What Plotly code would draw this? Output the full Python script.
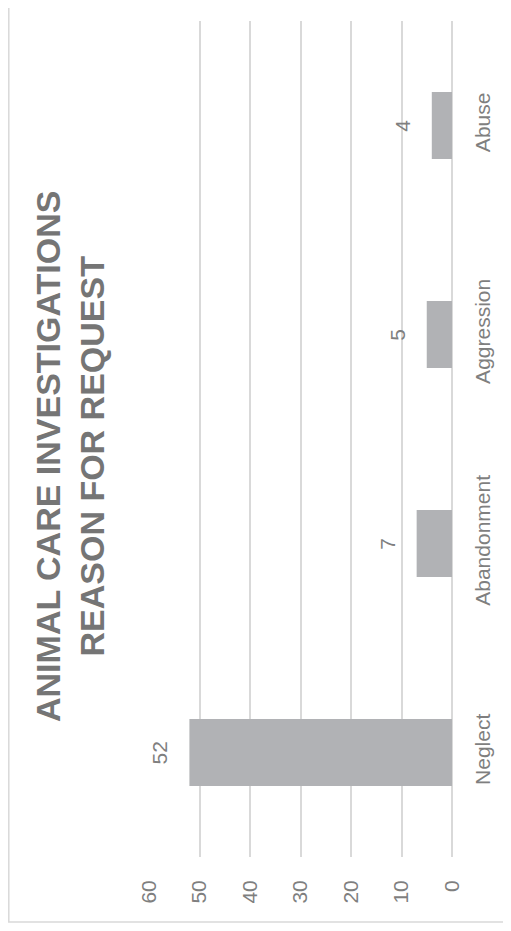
import plotly.graph_objects as go

# data (chart is drawn turned 90 degrees, like the reference)
categories = ["Neglect", "Abandonment", "Aggression", "Abuse"]
counts = [52, 7, 5, 4]
value_ticks = [0, 10, 20, 30, 40, 50, 60]
title_lines = ["ANIMAL CARE INVESTIGATIONS", "REASON FOR REQUEST"]

BAR = "#b1b2b5"
GRID = "#d9d9d9"
TEXT = "#7f7f7f"
TITLE = "#757575"
FONT = "Liberation Sans, Arial, sans-serif"

# page body has an 8px margin, so the figure is drawn 8px in from the corner
OFF = 8
W, H = 511 - OFF, 931 - OFF
L, R, T, B = 149 - OFF, 59, 21 - OFF, 74
pw, ph = W - L - R, H - T - B


def px_x(p):
    return (p - OFF - L) / pw


def px_y(p):
    return (H - B - (p - OFF)) / ph


fig = go.Figure(go.Bar(
    x=counts, y=categories, orientation="h",
    marker=dict(color=BAR, line_width=0),
    hoverinfo="skip",
))

# value labels next to bar ends
for c, v in zip(categories, counts):
    fig.add_annotation(
        x=v, y=c, xref="x", yref="y", text=str(v),
        textangle=-90, showarrow=False,
        xanchor="right", yanchor="middle", xshift=-16,
        font=dict(family=FONT, size=21, color=TEXT),
    )

fig.add_annotation(
    x=px_x(70), y=px_y(457), xref="paper", yref="paper",
    text="<br>".join(title_lines), textangle=-90, showarrow=False,
    xanchor="center", yanchor="middle", align="center",
    font=dict(family=FONT, size=34, color=TITLE, weight="bold"),
)

# outer chart border (top and right fall off the picture)
fig.add_shape(
    type="rect", xref="paper", yref="paper", layer="below",
    x0=px_x(OFF + 0.8), x1=px_x(540), y0=px_y(922), y1=px_y(-10),
    line=dict(color=GRID, width=1.5), fillcolor="rgba(0,0,0,0)",
)

fig.update_layout(
    width=W, height=H,
    margin=dict(l=L, r=R, t=T, b=B),
    paper_bgcolor="white", plot_bgcolor="white",
    showlegend=False, bargap=0.68,
    font=dict(family=FONT, color=TEXT, size=21),
    xaxis=dict(
        range=[60, 0], tickvals=value_ticks, tickangle=-90,
        showgrid=True, gridcolor=GRID, gridwidth=1.5,
        zeroline=True, zerolinecolor=GRID, zerolinewidth=1.5,
        showline=False, ticks="", ticklabelstandoff=18,
        tickfont=dict(family=FONT, size=21, color=TEXT),
        fixedrange=True,
    ),
    yaxis=dict(
        categoryorder="array", categoryarray=categories,
        range=[-0.5, 3.5], side="right", tickangle=-90,
        showgrid=False, zeroline=False, showline=False,
        ticks="", ticklabelstandoff=16,
        tickfont=dict(family=FONT, size=21, color=TEXT),
        fixedrange=True,
    ),
)

fig.write_html("out.html")
